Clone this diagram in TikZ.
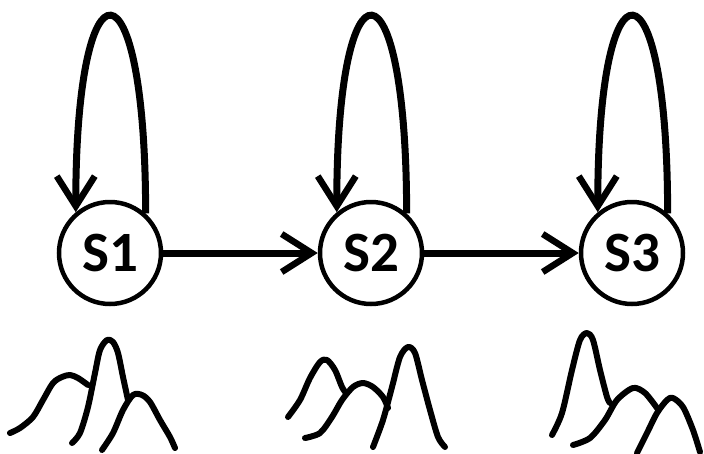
\documentclass[tikz,border=0pt]{standalone}
\usepackage{fontspec}
\setmainfont{Carlito}
\usetikzlibrary{arrows.meta}
\begin{document}
\begin{tikzpicture}[x=1pt,y=-1pt,
  state/.style={circle,draw,line width=4.5pt,minimum size=102pt,inner sep=0pt,
    font=\bfseries\fontsize{57}{60}\selectfont},
  arr/.style={line width=7pt,-{Straight Barb[length=30pt,width=38pt,line width=6.5pt]}},
  hump/.style={line width=6pt,line cap=round,line join=round}]
\useasboundingbox (0,0) rectangle (704,453);

% states
\node[state] (s1) at (110,253) {S1};
\node[state] (s2) at (371,253) {S2};
\node[state] (s3) at (632,253) {S3};

% transitions between states
\draw[arr] (s1) -- (s2);
\draw[arr] (s2) -- (s3);

% self loops
\draw[arr] (s1.48) .. controls +(0,-262) and +(0,-262) .. (s1.130);
\draw[arr] (s2.48) .. controls +(0,-262) and +(0,-262) .. (s2.130);
\draw[arr] (s3.48) .. controls +(0,-262) and +(0,-262) .. (s3.130);

% emission densities under S1
\draw[hump] plot[smooth] coordinates {(10,433) (20,428) (33,417) (43,400) (53,383) (62,377) (70,375) (78,378) (88,385)};
\draw[hump] plot[smooth] coordinates {(72,443) (80,433) (88,407) (95,373) (100,350) (107,340) (113,342) (118,353) (123,377) (128,400)};
\draw[hump] plot[smooth] coordinates {(102,450) (113,433) (123,410) (133,395) (142,395) (150,402) (160,420) (170,437) (175,448)};

% emission densities under S2
\draw[hump] plot[smooth] coordinates {(288,417) (300,400) (310,378) (320,362) (327,360) (335,370) (342,387) (346,393)};
\draw[hump] plot[smooth] coordinates {(305,438) (320,433) (332,417) (342,400) (353,387) (363,383) (373,387) (383,397) (388,408)};
\draw[hump] plot[smooth] coordinates {(373,447) (383,420) (392,387) (400,357) (408,347) (415,353) (422,380) (430,410) (438,437) (445,447)};

% emission densities under S3
\draw[hump] plot[smooth] coordinates {(552,435) (562,413) (572,370) (580,340) (587,333) (593,340) (600,370) (607,397) (610,403)};
\draw[hump] plot[smooth] coordinates {(573,445) (590,438) (605,420) (617,400) (633,388) (645,393) (657,408)};
\draw[hump] plot[smooth] coordinates {(637,453) (647,433) (657,413) (667,400) (673,398) (683,407) (693,430) (700,452)};
\end{tikzpicture}
\end{document}
